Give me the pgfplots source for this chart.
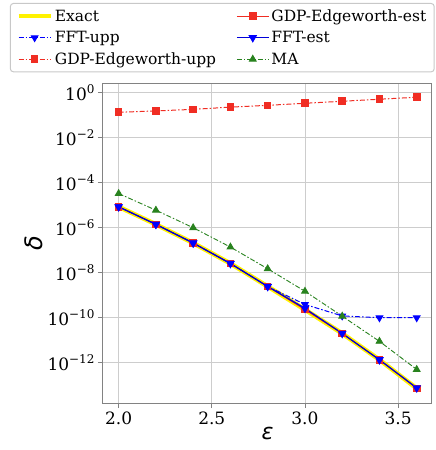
\documentclass[border=0pt]{standalone}
\usepackage{fontspec}
\setmainfont{DejaVu Serif}
\newfontfamily\dvs{DejaVu Sans}
\newfontfamily\dvserif{DejaVu Serif}
\usepackage{pgfplots}
\pgfplotsset{compat=1.18}
\definecolor{mred}{RGB}{240,45,35}
\definecolor{mblue}{RGB}{0,0,255}
\definecolor{mgreen}{RGB}{40,130,30}
\definecolor{gridc}{RGB}{205,205,205}
\definecolor{legc}{RGB}{200,200,200}
\definecolor{spine}{RGB}{130,130,130}
\newcommand{\tl}[1]{10\raisebox{0.75ex}{\fontsize{12}{12}\selectfont #1}}
\begin{document}
\begin{tikzpicture}
\path[use as bounding box] (-103pt,-47pt) rectangle (333pt,403pt);
\begin{axis}[
  scale only axis, width=329pt, height=319pt,
  ymode=log,
  xmin=1.916, xmax=3.682,
  ymin=1.62e-14, ymax=2.44,
  xtick={2.0,2.5,3.0,3.5}, xticklabels={2.0,2.5,3.0,3.5},
  ytick={1e-12,1e-10,1e-8,1e-6,1e-4,1e-2,1},
  yticklabels={\tl{−12},\tl{−10},\tl{−8},\tl{−6},\tl{−4},\tl{−2},\tl{0}},
  yminorticks=false, xminorticks=false,
  grid=major, major grid style={gridc, line width=0.8pt},
  axis line style={spine, line width=1pt},
  tick style={spine, line width=0.8pt},
  tick align=outside, tick pos=left, major tick length=5pt,
  tick label style={font=\dvserif\fontsize{17}{17}\selectfont},
  xlabel={{\dvs\itshape ε}}, ylabel={{\dvs\itshape δ}},
  xlabel style={font=\fontsize{22}{22}\selectfont, yshift=4pt},
  ylabel style={font=\fontsize{24}{24}\selectfont, yshift=-2pt},
  legend columns=2,
  legend cell align=left,
  every axis legend/.append style={draw=legc, line width=1pt, rounded corners=3pt},
  legend style={at={(-0.283,1.254)}, anchor=north west,
    font=\dvserif\fontsize{15.5}{19}\selectfont,
    /tikz/every even column/.append style={column sep=18pt},
    row sep=4.5pt,
    inner xsep=6pt, inner ysep=4pt},
  legend image code/.code={\draw[mark repeat=2,mark phase=2,#1] plot coordinates {(0pt,0pt) (16pt,0pt) (32pt,0pt)};},
]
\addplot[yellow, line width=4.5pt] coordinates {
(2.0,8.5e-6) (2.2,1.41e-6) (2.4,2.09e-7) (2.6,2.57e-8) (2.8,2.45e-9)
(3.0,2.29e-10) (3.2,2.0e-11) (3.4,1.35e-12) (3.6,7.2e-14)};
\addlegendentry{Exact}
\addplot[mred, line width=1pt, mark=square*, mark size=3.3pt, mark options={solid}] coordinates {
(2.0,8.5e-6) (2.2,1.41e-6) (2.4,2.09e-7) (2.6,2.57e-8) (2.8,2.45e-9)
(3.0,2.29e-10) (3.2,2.0e-11) (3.4,1.35e-12) (3.6,7.2e-14)};
\addlegendentry{GDP-Edgeworth-est}
\addplot[mblue, line width=1pt, dash pattern=on 5pt off 2pt on 1.5pt off 2pt, mark=triangle*, mark size=3.8pt, mark options={solid, rotate=180}] coordinates {
(2.0,8.5e-6) (2.2,1.41e-6) (2.4,2.09e-7) (2.6,2.57e-8) (2.8,2.45e-9)
(3.0,3.9e-10) (3.2,1.2e-10) (3.4,1.0e-10) (3.6,1.0e-10)};
\addlegendentry{FFT-upp}
\addplot[mblue!85!black, line width=1.3pt, mark=triangle*, mark size=3.8pt, mark options={solid, rotate=180, fill=mblue, draw=mblue}] coordinates {
(2.0,8.5e-6) (2.2,1.41e-6) (2.4,2.09e-7) (2.6,2.57e-8) (2.8,2.45e-9)
(3.0,2.6e-10) (3.2,2.0e-11) (3.4,1.35e-12) (3.6,7.6e-14)};
\addlegendentry{FFT-est}
\addplot[mred, line width=1pt, dash pattern=on 5pt off 2pt on 1.5pt off 2pt, mark=square*, mark size=3.3pt, mark options={solid}] coordinates {
(2.0,0.135) (2.2,0.155) (2.4,0.182) (2.6,0.229) (2.8,0.275)
(3.0,0.339) (3.2,0.417) (3.4,0.513) (3.6,0.63)};
\addlegendentry{GDP-Edgeworth-upp}
\addplot[mgreen, line width=0.9pt, dash pattern=on 5pt off 2pt on 1.5pt off 2pt, mark=triangle*, mark size=3.8pt, mark options={solid}] coordinates {
(2.0,3.3e-5) (2.2,6.0e-6) (2.4,1.0e-6) (2.6,1.38e-7) (2.8,1.5e-8)
(3.0,1.5e-9) (3.2,1.17e-10) (3.4,8.9e-12) (3.6,5.0e-13)};
\addlegendentry{MA}
\end{axis}
\end{tikzpicture}
\end{document}
